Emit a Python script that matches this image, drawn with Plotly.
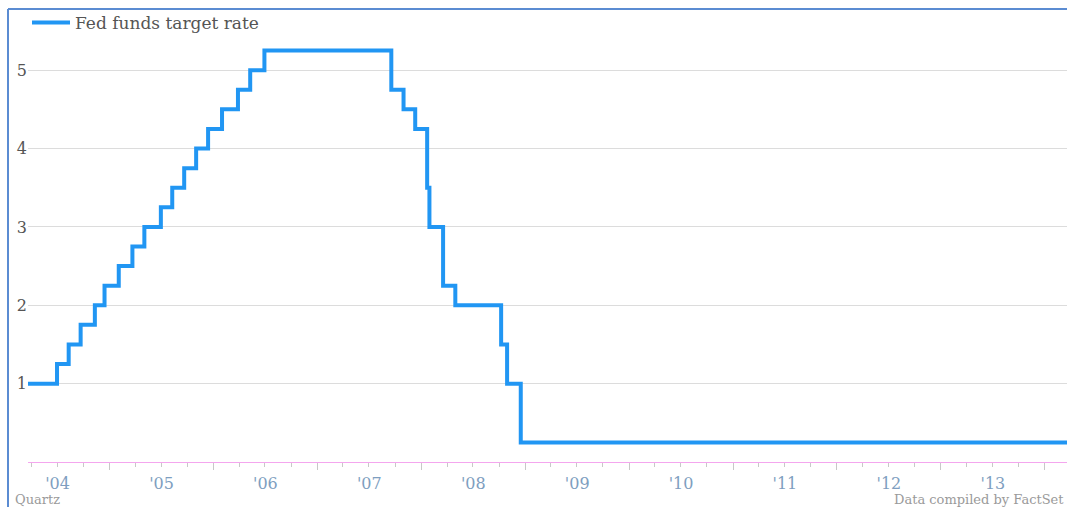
import plotly.graph_objects as go

# Fed funds target rate change dates and levels (percent)
dates = [
    "2003-06-25", "2004-06-30", "2004-08-10", "2004-09-21", "2004-11-10", "2004-12-14",
    "2005-02-02", "2005-03-22", "2005-05-03", "2005-06-30", "2005-08-09", "2005-09-20",
    "2005-11-01", "2005-12-13", "2006-01-31", "2006-03-28", "2006-05-10", "2006-06-29",
    "2007-09-18", "2007-10-31", "2007-12-11", "2008-01-22", "2008-01-30", "2008-03-18",
    "2008-04-30", "2008-10-08", "2008-10-29", "2008-12-16", "2014-03-20",
]
rates = [
    1.00, 1.25, 1.50, 1.75, 2.00, 2.25,
    2.50, 2.75, 3.00, 3.25, 3.50, 3.75,
    4.00, 4.25, 4.50, 4.75, 5.00, 5.25,
    4.75, 4.50, 4.25, 3.50, 3.00, 2.25,
    2.00, 1.50, 1.00, 0.25, 0.25,
]
y_ticks = [1, 2, 3, 4, 5]
x_range = ["2004-03-20", "2014-03-20"]

serif = "DejaVu Serif, Georgia, serif"

fig = go.Figure()
fig.add_trace(go.Scatter(
    x=dates, y=rates, mode="lines", line_shape="hv",
    line=dict(color="#2196F3", width=4),
    name="Fed funds target rate",
))

L, R, T, B = 28, 0, 31, 45
W, H = 1067, 507
pw, ph = W - L - R, H - T - B

def px(x):
    return (x - L) / pw

def py(y):
    return (H - B - y) / ph

fig.update_layout(
    width=W, height=H,
    margin=dict(l=L, r=R, t=T, b=B, pad=0),
    paper_bgcolor="white", plot_bgcolor="white",
    font=dict(family=serif, color="#555"),
    showlegend=True,
    legend=dict(
        x=px(27), y=py(23), xanchor="left", yanchor="middle",
        orientation="h", font=dict(size=17, color="#555", family=serif),
        bgcolor="rgba(0,0,0,0)", itemwidth=38,
    ),
    xaxis=dict(
        type="date", range=x_range,
        showgrid=False, zeroline=False,
        showline=True, linecolor="#f4a6ee", linewidth=1,
        ticks="outside", ticklen=7, tickcolor="#c8c8c8", tickwidth=1,
        tick0="2004-01-01", dtick="M12", tickformat="'%y",
        ticklabelmode="period",
        tickfont=dict(size=16, color="#7e9ec0", family=serif),
        minor=dict(dtick="M3", tick0="2004-01-01", ticks="outside",
                   ticklen=4, tickcolor="#c8c8c8", showgrid=False),
    ),
    yaxis=dict(
        range=[0, 5.5], tickvals=y_ticks, ticktext=[str(v) for v in y_ticks],
        showgrid=True, gridcolor="#dcdcdc", gridwidth=1,
        zeroline=False, showline=False, ticks="",
        tickfont=dict(size=16, color="#555", family=serif),
    ),
    shapes=[
        dict(type="line", xref="paper", yref="paper",
             x0=px(8), x1=px(8), y0=py(9), y1=py(510),
             line=dict(color="#5b8cd2", width=2)),
        dict(type="line", xref="paper", yref="paper",
             x0=px(8), x1=px(1070), y0=py(9), y1=py(9),
             line=dict(color="#5b8cd2", width=2)),
    ],
    annotations=[
        dict(text="Quartz", xref="paper", yref="paper", x=px(13), y=py(499),
             xanchor="left", yanchor="middle", showarrow=False,
             font=dict(size=13, color="#9a9a9a", family=serif)),
        dict(text="Data compiled by FactSet", xref="paper", yref="paper",
             x=px(1066), y=py(499), xanchor="right", yanchor="middle",
             showarrow=False, font=dict(size=13, color="#9a9a9a", family=serif)),
    ],
)

fig.write_html("out.html")
